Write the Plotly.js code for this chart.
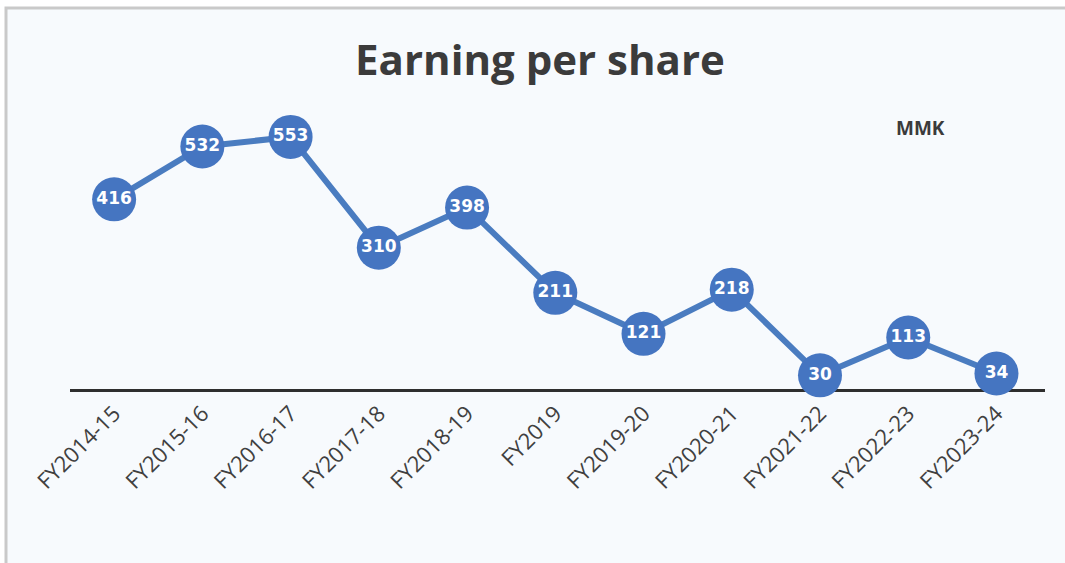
<!DOCTYPE html>
<html>
<head>
<meta charset="utf-8">
<script src="https://cdn.plot.ly/plotly-3.0.1.min.js"></script>
<style>
html, body { margin: 0; padding: 0; background: #ffffff; }
#chart { width: 1065px; height: 563px; }
</style>
</head>
<body>
<div id="chart"></div>
<script>
const categories = ["FY2014-15", "FY2015-16", "FY2016-17", "FY2017-18", "FY2018-19", "FY2019", "FY2019-20", "FY2020-21", "FY2021-22", "FY2022-23", "FY2023-24"];
const eps = [416, 532, 553, 310, 398, 211, 121, 218, 30, 113, 34];
const chartTitle = "Earning per share";
const unitLabel = "MMK";

const trace = {
  x: categories,
  y: eps,
  type: "scatter",
  mode: "lines+markers+text",
  text: eps.map(String),
  textposition: "middle center",
  textfont: { family: "DejaVu Sans", size: 17, color: "#ffffff", weight: "bold" },
  line: { color: "#4a7cc0", width: 6 },
  marker: { color: "#4575c1", size: 44, line: { width: 0 } },
  hoverinfo: "x+y",
  cliponaxis: false
};

// plot area: x 70..1045, y 100..389
const L = 70, R = 20, T = 100, B = 174;
const W = 1065, H = 563;
const pw = W - L - R, ph = H - T - B;
const px = v => (v - L) / pw;
const py = v => (H - B - v) / ph;

const layout = {
  width: W,
  height: H,
  margin: { l: L, r: R, t: T, b: B },
  paper_bgcolor: "#ffffff",
  plot_bgcolor: "rgba(0,0,0,0)",
  showlegend: false,
  title: {
    text: "<b>" + chartTitle + "</b>",
    font: { family: "Open Sans", size: 42, color: "#3b3b3b" },
    x: 0.507,
    xanchor: "center",
    y: 0.893,
    yanchor: "middle"
  },
  xaxis: {
    type: "category",
    range: [-0.5, 10.55],
    showline: true,
    linecolor: "#2e2e2e",
    linewidth: 3,
    showgrid: false,
    zeroline: false,
    ticks: "",
    ticklen: 0,
    tickangle: -45,
    tickfont: { family: "Open Sans", size: 22, color: "#404040" },
    layer: "below traces",
    fixedrange: true
  },
  yaxis: {
    range: [0, 634],
    visible: false,
    fixedrange: true
  },
  shapes: [
    {
      type: "rect",
      xref: "paper", yref: "paper",
      x0: px(6), x1: px(1075), y0: py(8), y1: py(575),
      fillcolor: "#f7fafd",
      line: { color: "#c9c9c9", width: 3 },
      layer: "below"
    }
  ],
  annotations: [
    {
      text: "<b>" + unitLabel + "</b>",
      xref: "paper", yref: "paper",
      x: px(920), y: py(128),
      xanchor: "center", yanchor: "middle",
      showarrow: false,
      font: { family: "Open Sans", size: 19, color: "#3b3b3b" }
    }
  ]
};

Plotly.newPlot("chart", [trace], layout, { displayModeBar: false, staticPlot: true });
</script>
</body>
</html>
